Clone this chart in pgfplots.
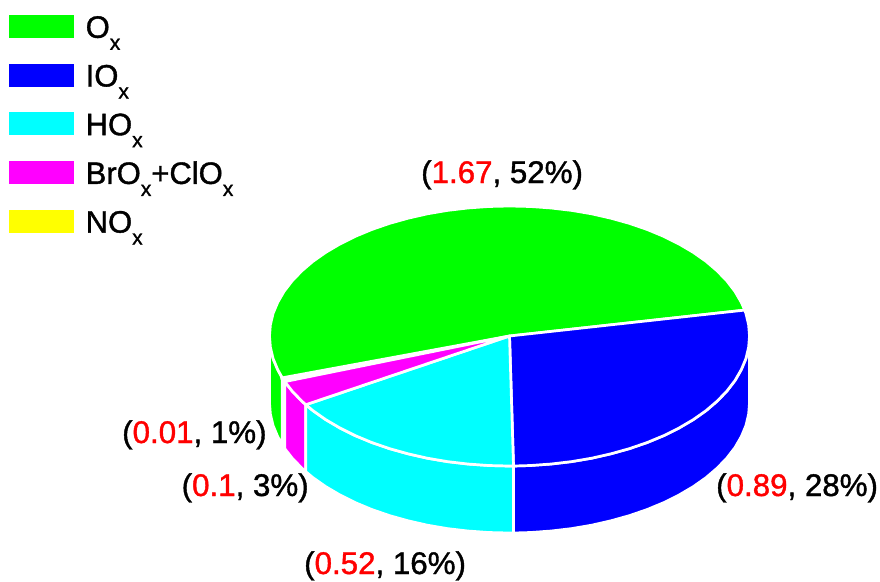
\documentclass[border=0pt]{standalone}
\usepackage{fontspec}
\setmainfont{Liberation Sans}[RawFeature={embolden=1.2}]
\usepackage{pgfplots}
\pgfplotsset{compat=1.18}
\definecolor{cO}{RGB}{0,255,0}
\definecolor{cI}{RGB}{0,0,255}
\definecolor{cH}{RGB}{0,255,255}
\definecolor{cB}{RGB}{255,0,255}
\definecolor{cN}{RGB}{255,255,0}
\definecolor{cR}{RGB}{255,0,0}
\newcommand\sx{\raisebox{-12pt}{\fontsize{21}{21}\selectfont x}}
\pgfplotsset{face/.style={fill=#1,draw=white,line width=2.7pt,line join=round},
  swatch/.style={legend image code/.code={\path[fill=#1,draw=none] (0pt,0pt) rectangle (65pt,23pt);}}}
\begin{document}
\begin{tikzpicture}
\useasboundingbox (0pt,0pt) rectangle (880pt,581pt);
\begin{axis}[
  at={(0pt,0pt)},anchor=south west,
  scale only axis,width=880pt,height=581pt,
  xmin=0,xmax=880,ymin=0,ymax=581,y dir=reverse,
  hide axis,clip=false,
  legend cell align=left,
  legend style={at={(axis cs:9,10.6)},anchor=north west,draw=none,fill=none,inner sep=0pt,
    font=\fontsize{31}{31}\selectfont,
    row sep=11.7pt,
    nodes={inner sep=0pt,text height=27pt,text depth=10pt,anchor=base west},
    /tikz/every odd column/.append style={column sep=11.5pt}},
]
% ---- side faces
\addplot[face=cN,forget plot] coordinates {(284.75,381.6)(282.25,377.8)(282.25,444.8)(284.75,448.6)} -- cycle;
\addplot[face=cO,forget plot] coordinates {(269.5,336)(270.4,347.3)(273.1,358.6)(277.7,369.6)(282.25,377.8)(282.25,444.8)(277.7,436.6)(273.1,425.6)(270.4,414.3)(269.5,403)} -- cycle;
\addplot[face=cB,forget plot] coordinates {(305.8,404.7)(301.7,401)(292,390.9)(284.75,381.6)(284.75,448.6)(292,457.9)(301.7,468)(305.8,471.7)} -- cycle;
\addplot[face=cH,forget plot] coordinates {(513.5,466)(509.5,466)(488.6,465.5)(467.8,464)(447.4,461.6)(427.4,458.2)(408.1,453.8)(389.5,448.6)(371.8,442.5)(355.2,435.6)(339.8,427.9)(325.7,419.6)(312.9,410.6)(305.8,404.7)(305.8,471.7)(312.9,477.6)(325.7,486.6)(339.8,494.9)(355.2,502.6)(371.8,509.5)(389.5,515.6)(408.1,520.8)(427.4,525.2)(447.4,528.6)(467.8,531)(488.6,532.5)(509.5,533)(513.5,533)} -- cycle;
\addplot[face=cI,forget plot] coordinates {(749.5,336)(748.6,347.3)(745.9,358.6)(741.3,369.6)(735,380.5)(727,390.9)(717.3,401)(706.1,410.6)(693.3,419.6)(679.2,427.9)(663.8,435.6)(647.2,442.5)(629.5,448.6)(610.9,453.8)(591.6,458.2)(571.6,461.6)(551.2,464)(530.4,465.5)(513.5,466)(513.5,533)(530.4,532.5)(551.2,531)(571.6,528.6)(591.6,525.2)(610.9,520.8)(629.5,515.6)(647.2,509.5)(663.8,502.6)(679.2,494.9)(693.3,486.6)(706.1,477.6)(717.3,468)(727,457.9)(735,447.5)(741.3,436.6)(745.9,425.6)(748.6,414.3)(749.5,403)} -- cycle;
% ---- NOx top wedge, hidden by the separators
\addplot[fill=cN,draw=white,line width=4.5pt,line join=round,forget plot] coordinates {(509.5,336)(284.75,381.6)(282.25,377.8)} -- cycle;
% ---- top faces
\addplot[face=cO,swatch=cO] coordinates {(509.5,336)(744.7,310.1)(741.3,302.4)(735,291.5)(727,281.1)(717.3,271)(706.1,261.4)(693.3,252.4)(679.2,244.1)(663.8,236.4)(647.2,229.5)(629.5,223.4)(610.9,218.2)(591.6,213.8)(571.6,210.4)(551.2,208)(530.4,206.5)(509.5,206)(488.6,206.5)(467.8,208)(447.4,210.4)(427.4,213.8)(408.1,218.2)(389.5,223.4)(371.8,229.5)(355.2,236.4)(339.8,244.1)(325.7,252.4)(312.9,261.4)(301.7,271)(292,281.1)(284,291.5)(277.7,302.4)(273.1,313.4)(270.4,324.7)(269.5,336)(270.4,347.3)(273.1,358.6)(277.7,369.6)(282.25,377.8)} -- cycle;
\addlegendentry{O\sx}
\addplot[face=cI,swatch=cI] coordinates {(509.5,336)(513.5,466)(530.4,465.5)(551.2,464)(571.6,461.6)(591.6,458.2)(610.9,453.8)(629.5,448.6)(647.2,442.5)(663.8,435.6)(679.2,427.9)(693.3,419.6)(706.1,410.6)(717.3,401)(727,390.9)(735,380.5)(741.3,369.6)(745.9,358.6)(748.6,347.3)(749.5,336)(748.6,324.7)(745.9,313.4)(744.7,310.1)} -- cycle;
\addlegendentry{IO\sx}
\addplot[face=cH,swatch=cH] coordinates {(509.5,336)(305.8,404.7)(312.9,410.6)(325.7,419.6)(339.8,427.9)(355.2,435.6)(371.8,442.5)(389.5,448.6)(408.1,453.8)(427.4,458.2)(447.4,461.6)(467.8,464)(488.6,465.5)(509.5,466)(513.5,466)} -- cycle;
\addlegendentry{HO\sx}
\addplot[face=cB,swatch=cB] coordinates {(509.5,336)(284.75,381.6)(292,390.9)(301.7,401)(305.8,404.7)} -- cycle;
\addlegendentry{BrO\sx+ClO\sx}
\addlegendimage{swatch=cN}
\addlegendentry{NO\sx}
% ---- value labels
\node[anchor=base west,inner sep=0pt,font=\fontsize{31.3}{31}\selectfont] at (axis cs:421,183) {(\textcolor{cR}{1.67}, 52\%)};
\node[anchor=base west,inner sep=0pt,font=\fontsize{31.3}{31}\selectfont] at (axis cs:716,496) {(\textcolor{cR}{0.89}, 28\%)};
\node[anchor=base west,inner sep=0pt,font=\fontsize{31.3}{31}\selectfont] at (axis cs:304,574) {(\textcolor{cR}{0.52}, 16\%)};
\node[anchor=base west,inner sep=0pt,font=\fontsize{31.3}{31}\selectfont] at (axis cs:181.5,496) {(\textcolor{cR}{0.1}, 3\%)};
\node[anchor=base west,inner sep=0pt,font=\fontsize{31.3}{31}\selectfont] at (axis cs:122,443) {(\textcolor{cR}{0.01}, 1\%)};
\end{axis}
\end{tikzpicture}
\end{document}
